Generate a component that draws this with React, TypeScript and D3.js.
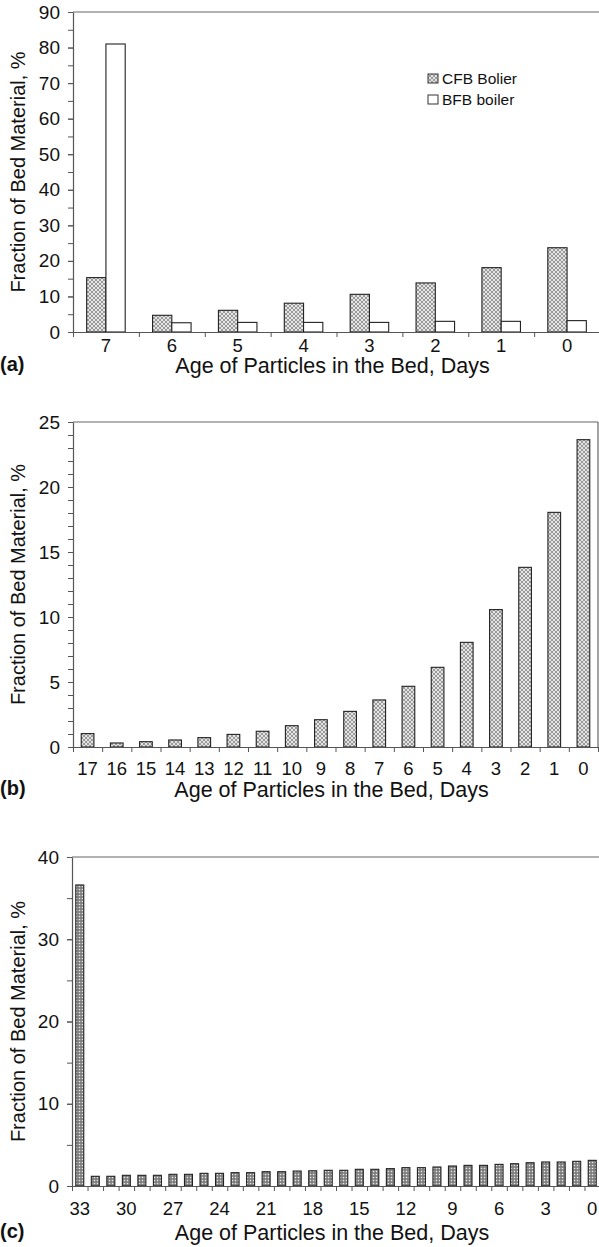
import React, { useEffect, useRef } from "react";
import * as d3 from "d3";

// panel (a)
const agesA = ["7", "6", "5", "4", "3", "2", "1", "0"];
const cfbA = [15.3, 4.7, 6.1, 8.1, 10.6, 13.8, 18.1, 23.7];
const bfbA = [81.0, 2.6, 2.7, 2.7, 2.7, 3.0, 3.0, 3.2];
const seriesA = ["CFB Bolier", "BFB boiler"];

// panel (b)
const agesB = ["17", "16", "15", "14", "13", "12", "11", "10", "9", "8", "7", "6", "5", "4", "3", "2", "1", "0"];
const cfbB = [1.03, 0.31, 0.41, 0.54, 0.72, 0.97, 1.21, 1.64, 2.1, 2.74, 3.62, 4.67, 6.13, 8.05, 10.57, 13.82, 18.05, 23.64];

// panel (c)
const agesC = d3.range(33, -1, -1).map(String);
const valuesC = [
  36.6, 1.18, 1.18, 1.3, 1.3, 1.3, 1.42, 1.42, 1.54, 1.54, 1.62, 1.62, 1.74, 1.74, 1.82, 1.85, 1.91,
  1.91, 2.03, 2.03, 2.11, 2.23, 2.23, 2.31, 2.43, 2.51, 2.51, 2.63, 2.71, 2.83, 2.92, 2.92, 3.0, 3.12,
];

const font = "'Liberation Sans', Arial, Helvetica, sans-serif";

function drawPanel(svg, o) {
  const g = svg.append("g");
  const n = o.cats.length;

  const y = d3.scaleLinear().domain([0, o.yMax]).range([o.bottom, o.top]);
  const xLin = d3.scaleLinear().domain([0, n]).range([o.left, o.right]);
  const x = d3.scaleBand().domain(o.cats).range([o.left, o.right]).padding(0);

  // frame top / right
  g.append("line")
    .attr("x1", o.left).attr("x2", o.right)
    .attr("y1", o.top).attr("y2", o.top)
    .attr("stroke", "#666").attr("stroke-width", 1.2);
  g.append("line")
    .attr("x1", o.right).attr("x2", o.right)
    .attr("y1", o.top).attr("y2", o.bottom)
    .attr("stroke", "#666").attr("stroke-width", 1.2);

  // bars
  if (o.series.length === 2) {
    const x1 = d3.scaleBand().domain([0, 1]).range([0, x.bandwidth()]).paddingInner(0).paddingOuter(o.barPad);
    o.series.forEach((vals, si) => {
      g.selectAll(".bar" + si)
        .data(vals)
        .join("rect")
        .attr("class", "bar" + si)
        .attr("x", (d, i) => x(o.cats[i]) + x1(si))
        .attr("width", x1.bandwidth())
        .attr("y", (d) => y(d))
        .attr("height", (d) => y(0) - y(d))
        .attr("fill", o.fills[si])
        .attr("stroke", "#222")
        .attr("stroke-width", 1.1);
    });
  } else {
    const xb = d3.scaleBand().domain(o.cats).range([o.left, o.right]).paddingInner(o.barPad).paddingOuter(o.barPad / 2);
    g.selectAll(".bar")
      .data(o.series[0])
      .join("rect")
      .attr("class", "bar")
      .attr("x", (d, i) => xb(o.cats[i]))
      .attr("width", xb.bandwidth())
      .attr("y", (d) => y(d))
      .attr("height", (d) => y(0) - y(d))
      .attr("fill", o.fills[0])
      .attr("stroke", "#222")
      .attr("stroke-width", 1.1);
  }

  // y axis
  const yMinor = g.append("g")
    .attr("transform", `translate(${o.left},0)`)
    .call(d3.axisLeft(y).tickValues(d3.range(0, o.yMax + 0.001, o.yMinor)).tickSize(5).tickFormat(() => ""));
  yMinor.select(".domain").remove();
  yMinor.selectAll("line").attr("stroke", "#555");
  const yAx = g.append("g")
    .attr("transform", `translate(${o.left},0)`)
    .call(d3.axisLeft(y).tickValues(d3.range(0, o.yMax + 0.001, o.yMajor)).tickSize(5).tickPadding(8).tickSizeOuter(0));
  yAx.select(".domain").attr("stroke", "#555").attr("stroke-width", 1.2);
  yAx.selectAll("line").attr("stroke", "#555");
  yAx.selectAll("text").attr("font-family", font).attr("font-size", 19).attr("fill", "#111");

  // x axis: ticks at group boundaries
  const xTicks = g.append("g")
    .attr("transform", `translate(0,${o.bottom})`)
    .call(d3.axisBottom(xLin).tickValues(d3.range(0, n + 1)).tickSize(5).tickSizeOuter(0).tickFormat(() => ""));
  xTicks.select(".domain").attr("stroke", "#555").attr("stroke-width", 1.2);
  xTicks.selectAll("line").attr("stroke", "#555");

  const xLab = g.append("g")
    .attr("transform", `translate(0,${o.bottom})`)
    .call(d3.axisBottom(x).tickValues(o.cats.filter(o.labelFilter)).tickSize(0).tickPadding(o.xPad));
  xLab.select(".domain").remove();
  xLab.selectAll("text").attr("font-family", font).attr("font-size", 18.5).attr("fill", "#111");

  // titles
  g.append("text")
    .attr("x", (o.left + o.right) / 2 - 4)
    .attr("y", o.xTitleY)
    .attr("text-anchor", "middle")
    .attr("font-family", font)
    .attr("font-size", 21.5)
    .attr("fill", "#111")
    .text("Age of Particles in the Bed, Days");
  g.append("text")
    .attr("transform", `translate(25,${(o.top + o.bottom) / 2}) rotate(-90)`)
    .attr("text-anchor", "middle")
    .attr("font-family", font)
    .attr("font-size", 20)
    .attr("fill", "#111")
    .text("Fraction of Bed Material, %");
  g.append("text")
    .attr("x", 0)
    .attr("y", o.labelY)
    .attr("font-family", font)
    .attr("font-size", 20)
    .attr("font-weight", "bold")
    .attr("fill", "#111")
    .text(o.label);
  return g;
}

export default function App() {
  const ref = useRef(null);

  useEffect(() => {
    const svg = d3.select(ref.current);
    svg.selectAll("*").remove();

    const defs = svg.append("defs");
    const hatch = defs.append("pattern")
      .attr("id", "hatch")
      .attr("patternUnits", "userSpaceOnUse")
      .attr("width", 4).attr("height", 4);
    hatch.append("rect").attr("width", 4).attr("height", 4).attr("fill", "#e4e4e4");
    hatch.append("path")
      .attr("d", "M0,0 L4,4 M4,0 L0,4")
      .attr("stroke", "#7a7a7a").attr("stroke-width", 0.7);

    const dots = defs.append("pattern")
      .attr("id", "dots")
      .attr("patternUnits", "userSpaceOnUse")
      .attr("width", 3).attr("height", 3);
    dots.append("rect").attr("width", 3).attr("height", 3).attr("fill", "#808080");
    dots.append("circle").attr("cx", 1.5).attr("cy", 1.5).attr("r", 0.75).attr("fill", "#ececec");

    drawPanel(svg, {
      cats: agesA, series: [cfbA, bfbA], fills: ["url(#hatch)", "#fff"],
      left: 73, right: 600, top: 12, bottom: 332, yMax: 90, yMajor: 10, yMinor: 5,
      barPad: 0.71, labelFilter: () => true, xPad: 7, xTitleY: 373, labelY: 371, label: "(a)",
    });

    // legend for (a)
    const leg = svg.append("g").attr("transform", "translate(428,74)");
    seriesA.forEach((s, i) => {
      leg.append("rect")
        .attr("x", 0).attr("y", i * 21)
        .attr("width", 10).attr("height", 9)
        .attr("fill", i === 0 ? "url(#hatch)" : "#fff")
        .attr("stroke", "#333").attr("stroke-width", 1);
      leg.append("text")
        .attr("x", 14).attr("y", i * 21 + 9.5)
        .attr("font-family", font).attr("font-size", 15.5).attr("fill", "#111")
        .text(s);
    });

    drawPanel(svg, {
      cats: agesB, series: [cfbB], fills: ["url(#hatch)"],
      left: 73, right: 598, top: 422, bottom: 747, yMax: 25, yMajor: 5, yMinor: 1,
      barPad: 0.565, labelFilter: () => true, xPad: 14.5, xTitleY: 797, labelY: 795, label: "(b)",
    });

    drawPanel(svg, {
      cats: agesC, series: [valuesC], fills: ["url(#dots)"],
      left: 72, right: 600, top: 857, bottom: 1186, yMax: 40, yMajor: 10, yMinor: 5,
      barPad: 0.486, labelFilter: (d) => +d % 3 === 0, xPad: 15.5, xTitleY: 1240, labelY: 1238, label: "(c)",
    });
  }, []);

  return (
    <svg
      ref={ref}
      width={599}
      height={1247}
      style={{ position: "absolute", left: 0, top: 0, background: "#fff" }}
    />
  );
}
